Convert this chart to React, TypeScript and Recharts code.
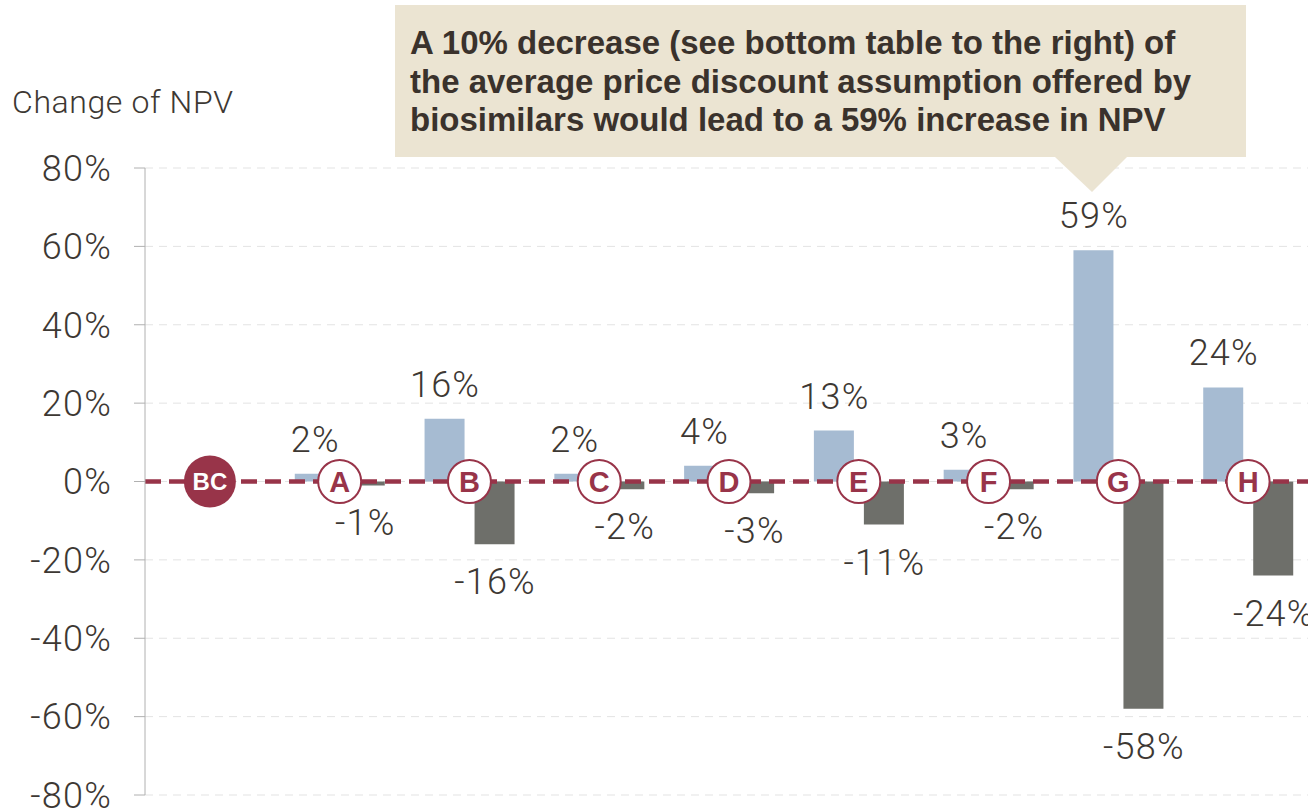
import React from "react";
import {
  ComposedChart,
  Bar,
  Line,
  XAxis,
  YAxis,
  CartesianGrid,
  ReferenceLine,
  LabelList,
} from "recharts";

// scenario markers along the zero line
const categories = ["BC", "A", "B", "C", "D", "E", "F", "G", "H"];
// change of NPV when the assumption is lowered / raised
const lowerValues = [null, 2, 16, 2, 4, 13, 3, 59, 24];
const higherValues = [null, -1, -16, -2, -3, -11, -2, -58, -24];
const markerBase = [0, 0, 0, 0, 0, 0, 0, 0, 0];
const yTicks = [-80, -60, -40, -20, 0, 20, 40, 60, 80];

const calloutLines = [
  "A 10% decrease (see bottom table to the right) of",
  "the average price discount assumption offered by",
  "biosimilars would lead to a 59% increase in NPV",
];

const data = categories.map((name, i) => ({
  name,
  lower: lowerValues[i],
  higher: higherValues[i],
  base: markerBase[i],
}));

const MAROON = "#983449";
const TEXT = "#3d3833";
const LIGHT_FONT = "Roboto, 'Liberation Sans', sans-serif";
const BOLD_FONT = "'Liberation Sans', Arial, sans-serif";

function BarValueLabel(props: any) {
  const { x, y, width, height, value } = props;
  if (value === null || value === undefined) return null;
  const top = Math.min(y, y + height);
  const bottom = Math.max(y, y + height);
  const ty = value >= 0 ? top - 22 : bottom + 50;
  return (
    <text
      x={x + width / 2 + 0.5}
      y={ty}
      textAnchor="middle"
      fontSize={36}
      fontWeight={300}
      letterSpacing={1.2}
      fontFamily={LIGHT_FONT}
      fill={TEXT}
    >
      {`${value}%`}
    </text>
  );
}

function Marker(props: any) {
  const { cx, cy, payload, index } = props;
  if (payload.name === "BC") {
    return (
      <g key={`m-${index}`}>
        <circle cx={cx} cy={cy} r={26} fill={MAROON} />
        <text
          x={cx}
          y={cy + 8.5}
          textAnchor="middle"
          fontSize={24}
          fontWeight="bold"
          fontFamily={BOLD_FONT}
          fill="#fff"
        >
          BC
        </text>
      </g>
    );
  }
  return (
    <g key={`m-${index}`}>
      <circle cx={cx} cy={cy} r={21.5} fill="#fff" stroke={MAROON} strokeWidth={2} />
      <text
        x={cx}
        y={cy + 10.5}
        textAnchor="middle"
        fontSize={29}
        fontWeight="bold"
        fontFamily={BOLD_FONT}
        fill={MAROON}
      >
        {payload.name}
      </text>
    </g>
  );
}

export default function App() {
  return (
    <div
      style={{
        position: "absolute",
        left: 0,
        top: 0,
        width: 1308,
        height: 812,
        overflow: "hidden",
        background: "#fff",
      }}
    >
      <ComposedChart
        width={1330}
        height={812}
        data={data}
        margin={{ top: 168, right: 17, bottom: 17, left: 0 }}
        barSize={40}
        barGap={10}
      >
        <CartesianGrid vertical={false} stroke="#e3e3e3" strokeDasharray="8 6" />
        <XAxis dataKey="name" hide />
        <YAxis
          width={145}
          domain={[-80, 80]}
          ticks={yTicks}
          tickFormatter={(v: number) => `${v}%`}
          tickSize={11}
          tickMargin={22}
          axisLine={{ stroke: "#b0b0b0" }}
          tickLine={{ stroke: "#b0b0b0" }}
          tick={{
            fontSize: 36,
            fontWeight: 300,
            fontFamily: LIGHT_FONT,
            fill: TEXT,
            letterSpacing: 1.2,
          }}
          interval={0}
        />
        <Bar dataKey="lower" fill="#a6bbd2" isAnimationActive={false}>
          <LabelList dataKey="lower" content={BarValueLabel} />
        </Bar>
        <Bar dataKey="higher" fill="#6e6f6a" isAnimationActive={false}>
          <LabelList dataKey="higher" content={BarValueLabel} />
        </Bar>
        <ReferenceLine y={0} stroke={MAROON} strokeWidth={4.5} strokeDasharray="16 8" />
        <Line
          dataKey="base"
          stroke="none"
          dot={Marker}
          activeDot={false}
          isAnimationActive={false}
        />
      </ComposedChart>

      <svg
        width={1308}
        height={812}
        style={{ position: "absolute", left: 0, top: 0, pointerEvents: "none" }}
      >
        <text
          x={12}
          y={113}
          fontSize={32}
          fontWeight={300}
          letterSpacing={0.6}
          fontFamily={LIGHT_FONT}
          fill={TEXT}
        >
          Change of NPV
        </text>
        <rect x={395} y={5} width={851} height={152} fill="#ebe4d2" />
        <polygon points="1055,157 1127,157 1092,192" fill="#ebe4d2" />
        {calloutLines.map((line, i) => (
          <text
            key={i}
            x={410}
            y={54 + i * 38.5}
            fontSize={33}
            fontWeight="bold"
            fontFamily={BOLD_FONT}
            fill="#3a322c"
          >
            {line}
          </text>
        ))}
      </svg>
    </div>
  );
}
